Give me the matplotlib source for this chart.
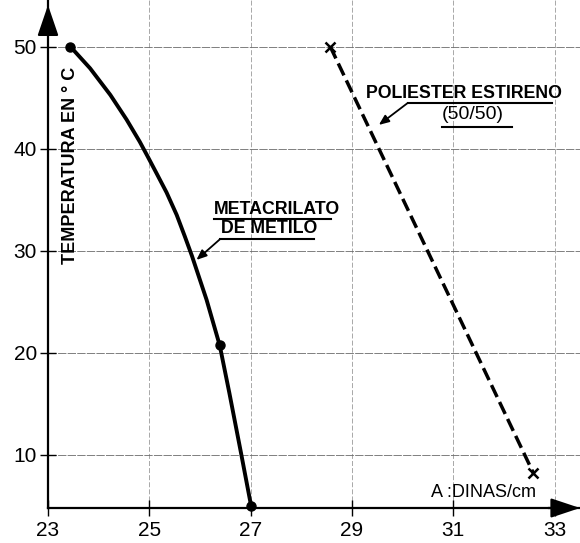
import matplotlib
matplotlib.use("Agg")
import matplotlib.pyplot as plt

# ---- data ----
meta_x = [23.44, 23.83, 24.23, 24.55, 24.81, 24.97, 25.14, 25.34, 25.54,
          25.70, 25.84, 26.13, 26.39, 26.58, 26.81, 27.01]
meta_y = [50.0, 47.87, 45.26, 42.85, 40.68, 39.2, 37.6, 35.7, 33.5,
          31.4, 29.5, 25.18, 20.7, 16.04, 10.16, 4.95]
meta_pts_x = [23.44, 26.39, 27.01]
meta_pts_y = [50.0, 20.8, 4.95]

poli_x = [28.57, 32.58]
poli_y = [50.0, 8.2]

x_ticks = [23, 25, 27, 29, 31, 33]
y_ticks = [10, 20, 30, 40, 50]
grid_x = [25, 27, 29, 31, 33]
grid_y = [10, 20, 30, 40, 50]

ylabel = "TEMPERATURA EN ° C"
xunit = "A :DINAS/cm"
label_meta = ["METACRILATO", "DE METILO"]
label_poli = ["POLIESTER ESTIRENO", "(50/50)"]

FONT = ["Liberation Sans", "DejaVu Sans"]
plt.rcParams["font.family"] = FONT

fig = plt.figure(figsize=(5.8, 5.43), dpi=100)
ax = fig.add_axes([48 / 580, 35 / 543, 532 / 580, 508 / 543])
ax.set_xlim(23.04, 33.5)
ax.set_ylim(4.78, 54.56)

for s in ["top", "right"]:
    ax.spines[s].set_visible(False)
for s in ["left", "bottom"]:
    ax.spines[s].set_linewidth(1.6)

# grid
for gx in grid_x:
    ax.axvline(gx, color="#9a9a9a", lw=0.6, ls=(0, (6, 2.5)), zorder=1)
for gy in grid_y:
    ax.axhline(gy, color="#6a6a6a", lw=0.6, ls=(0, (10, 1.5)), zorder=1)

# curves
ax.plot(meta_x, meta_y, color="black", lw=2.8, solid_capstyle="round",
        solid_joinstyle="round", zorder=3)
ax.plot(meta_pts_x, meta_pts_y, "o", color="black", ms=6.5, zorder=4, clip_on=False)
ax.plot(poli_x, poli_y, color="black", lw=2.5, ls=(0, (3.8, 1.6)), zorder=3)
ax.plot(poli_x, poli_y, "x", color="black", ms=7, mew=1.8, zorder=4)

# ticks
ax.set_xticks(x_ticks)
ax.set_yticks(y_ticks)
ax.tick_params(axis="both", direction="inout", length=12, width=1.0,
               labelsize=15)
ax.tick_params(axis="x", pad=3)
ax.tick_params(axis="y", pad=2)

# axis arrows
ax.annotate("", xy=(0, 0.99), xytext=(0, 0.93), xycoords="axes fraction",
            arrowprops=dict(arrowstyle="-|>,head_length=1.9,head_width=0.65",
                            color="black", lw=1.6, shrinkA=0, shrinkB=0),
            annotation_clip=False)
ax.annotate("", xy=(1.0, 0), xytext=(0.94, 0), xycoords="axes fraction",
            arrowprops=dict(arrowstyle="-|>,head_length=1.8,head_width=0.6",
                            color="black", lw=1.6, shrinkA=0, shrinkB=0),
            annotation_clip=False)

# y label inside
ax.text(23.44, 38.4, ylabel, rotation=90, ha="center", va="center",
        fontsize=13, fontweight="bold")

# x unit label
ax.text(30.55, 6.3, xunit, ha="left", va="center", fontsize=13)

# Metacrilato annotation
ax.text(26.28, 34.04, label_meta[0], ha="left", va="center", fontsize=12.8,
        fontweight="bold")
ax.plot([26.28, 28.58], [33.11, 33.11], color="black", lw=1.5)
ax.text(26.42, 32.13, label_meta[1], ha="left", va="center", fontsize=12.8,
        fontweight="bold")
ax.plot([26.39, 28.25], [31.10, 31.10], color="black", lw=1.5)
ax.annotate("", xy=(25.93, 29.09), xytext=(26.39, 31.10),
            arrowprops=dict(arrowstyle="-|>,head_length=0.6,head_width=0.25",
                            color="black", lw=1.3, shrinkA=0, shrinkB=0))

# Poliester annotation
ax.text(29.27, 45.35, label_poli[0], ha="left", va="center", fontsize=12.8,
        fontweight="bold")
ax.plot([30.10, 32.95], [44.47, 44.47], color="black", lw=1.5)
ax.annotate("", xy=(29.53, 42.32), xytext=(30.10, 44.47),
            arrowprops=dict(arrowstyle="-|>,head_length=0.6,head_width=0.25",
                            color="black", lw=1.3, shrinkA=0, shrinkB=0))
ax.text(30.78, 43.30, label_poli[1], ha="left", va="center", fontsize=14)
ax.plot([30.78, 32.16], [42.12, 42.12], color="black", lw=1.5)

fig.savefig("out.png", dpi=100)
